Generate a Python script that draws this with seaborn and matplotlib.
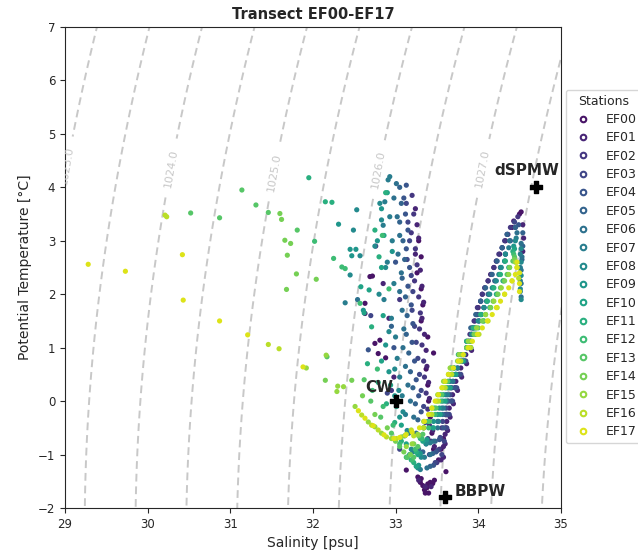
import numpy as np
import pandas as pd
import seaborn as sns
import matplotlib.pyplot as plt
from matplotlib.lines import Line2D

stations = ["EF%02d" % i for i in range(18)]

# (salinity, potential temperature) pairs, per station
ef00 = [(32.69, 2.33), (32.72, 2.34), (32.63, 1.83), (32.63, 1.64), (32.75, 1.08), (32.79, 0.89), (32.81, 1.14), (32.88, 0.81),
        (33.28, 3.00), (33.31, 2.70), (33.26, 2.40), (33.31, 2.10), (33.33, 1.80), (33.31, 1.50), (33.39, 1.20), (33.46, 0.90),
        (33.37, 0.60), (33.39, 0.30), (33.40, 0.00), (33.42, -0.30), (33.44, -0.60), (33.46, -0.90),
        (33.27, -1.42), (33.31, -1.45), (33.30, -1.52), (33.33, -1.58), (33.35, -1.66), (33.38, -1.62), (33.39, -1.55),
        (33.42, -1.52), (33.45, -1.54), (33.47, -1.48), (33.40, -1.72), (33.36, -1.72), (33.61, -1.32), (33.13, -1.29),
        (33.52, -1.10), (33.55, -0.90), (33.58, -0.70), (33.61, -0.50), (33.64, -0.25), (33.68, 0.00), (33.72, 0.25),
        (33.77, 0.50), (33.83, 0.75), (33.88, 1.00), (33.92, 1.25), (33.96, 1.50), (34.00, 1.75), (34.05, 2.00),
        (34.12, 2.25), (34.19, 2.50), (34.26, 2.75), (34.33, 3.00), (34.41, 3.25), (34.50, 3.50), (34.52, 3.54)]
ef01 = [(33.24, 3.60), (33.26, 3.30), (33.28, 3.05), (33.24, 2.75), (33.30, 2.45), (33.32, 2.15), (33.34, 1.85), (33.32, 1.55),
        (33.35, 1.25), (33.37, 0.95), (33.38, 0.65), (33.40, 0.35), (33.41, 0.05), (33.43, -0.25), (33.45, -0.55), (33.47, -0.85),
        (32.85, 2.20), (32.92, 1.55), (32.98, 0.45), (33.28, -1.48), (33.36, -1.60), (33.43, -1.60),
        (33.55, -1.10), (33.58, -0.85), (33.60, -0.62), (33.62, -0.38), (33.65, -0.13), (33.69, 0.12), (33.73, 0.37),
        (33.79, 0.62), (33.85, 0.87), (33.90, 1.12), (33.94, 1.37), (33.99, 1.62), (34.03, 1.87), (34.08, 2.12),
        (34.15, 2.37), (34.22, 2.62), (34.29, 2.87), (34.36, 3.12), (34.43, 3.37), (34.54, 3.30), (34.55, 3.05),
        (34.54, 2.80), (33.58, -1.05), (33.60, -0.80), (33.63, -0.55), (33.66, -0.30), (33.70, -0.05), (33.75, 0.20),
        (33.80, 0.45), (33.86, 0.70), (33.92, 0.95)]
ef02 = [(33.20, 3.85), (33.22, 3.50), (33.19, 3.15), (33.24, 2.85), (33.26, 2.55), (33.23, 2.25), (33.28, 1.95), (33.30, 1.65),
        (33.29, 1.35), (33.32, 1.05), (33.34, 0.75), (33.35, 0.45), (33.37, 0.15), (33.39, -0.15), (33.41, -0.45), (33.43, -0.75),
        (32.76, 2.90), (33.05, 1.90), (32.95, 0.20),
        (33.50, -1.15), (33.53, -0.90), (33.55, -0.70), (33.56, -0.50), (33.60, -0.25), (33.64, 0.00), (33.68, 0.25),
        (33.73, 0.50), (33.80, 0.75), (33.86, 1.00), (33.90, 1.25), (33.95, 1.50), (33.99, 1.75), (34.05, 2.00),
        (34.12, 2.25), (34.19, 2.50), (34.25, 2.75), (34.32, 3.00), (34.39, 3.25), (34.48, 3.45)]
ef03 = [(33.13, 3.70), (33.15, 3.35), (33.17, 3.00), (33.14, 2.65), (33.19, 2.35), (33.21, 2.05), (33.20, 1.70), (33.23, 1.40),
        (33.25, 1.10), (33.27, 0.80), (33.29, 0.50), (33.31, 0.20), (33.34, -0.10), (33.36, -0.40), (33.39, -0.70), (33.41, -1.00),
        (32.70, 1.60), (32.90, 0.15), (33.05, -0.90),
        (33.48, -1.15), (33.51, -0.92), (33.54, -0.68), (33.57, -0.38), (33.61, -0.13), (33.66, 0.12), (33.70, 0.37),
        (33.75, 0.62), (33.82, 0.87), (33.88, 1.12), (33.93, 1.37), (33.98, 1.62), (34.03, 1.87), (34.08, 2.12),
        (34.16, 2.37), (34.22, 2.62), (34.29, 2.87), (34.35, 3.12), (34.44, 3.35),
        (33.56, -1.00), (33.59, -0.75), (33.62, -0.50), (33.65, -0.25), (33.69, 0.00), (33.74, 0.25), (33.79, 0.50),
        (33.85, 0.75)]
ef04 = [(33.13, 4.04), (33.10, 3.80), (33.12, 3.50), (33.15, 3.20), (33.13, 2.85), (33.17, 2.50), (33.15, 2.15), (33.19, 1.80),
        (33.21, 1.45), (33.20, 1.10), (33.23, 0.75), (33.25, 0.40), (33.28, 0.10), (33.31, -0.20), (33.34, -0.50), (33.37, -0.80),
        (32.67, 0.96), (33.00, 2.60), (32.98, 1.00),
        (33.46, -1.20), (33.49, -0.95), (33.53, -0.72), (33.58, -0.50), (33.62, -0.25), (33.67, 0.00), (33.72, 0.25),
        (33.77, 0.50), (33.84, 0.75), (33.91, 1.00), (33.96, 1.25), (34.01, 1.50), (34.07, 1.75), (34.12, 2.00),
        (34.20, 2.25), (34.27, 2.50), (34.33, 2.75), (34.39, 3.00), (34.45, 3.25), (34.49, 3.30)]
ef05 = [(33.05, 4.00), (33.07, 3.70), (33.05, 3.35), (33.09, 3.00), (33.11, 2.65), (33.08, 2.30), (33.12, 1.95), (33.14, 1.60),
        (33.13, 1.25), (33.16, 0.90), (33.18, 0.55), (33.21, 0.25), (33.24, -0.05), (33.27, -0.35), (33.30, -0.65), (33.33, -0.95),
        (32.95, 1.40),
        (33.42, -1.22), (33.45, -0.98), (33.48, -0.75), (33.51, -0.38), (33.56, -0.13), (33.61, 0.12), (33.66, 0.37),
        (33.71, 0.62), (33.79, 0.87), (33.86, 1.12), (33.91, 1.37), (33.97, 1.62), (34.03, 1.87), (34.09, 2.12),
        (34.17, 2.37), (34.23, 2.62), (34.29, 2.87), (34.35, 3.12), (34.45, 3.25), (34.54, 3.15), (34.54, 2.90),
        (34.53, 2.65)]
ef06 = [(33.01, 4.07), (32.98, 3.80), (33.02, 3.45), (33.05, 3.10), (33.03, 2.75), (33.07, 2.40), (33.05, 2.05), (33.08, 1.70),
        (33.10, 1.35), (33.09, 1.00), (33.12, 0.65), (33.15, 0.30), (33.18, 0.00), (33.22, -0.30), (33.25, -0.60), (33.28, -0.90),
        (32.54, 1.90),
        (33.38, -1.25), (33.42, -1.00), (33.46, -0.75), (33.51, -0.50), (33.57, -0.25), (33.62, 0.00), (33.67, 0.25),
        (33.73, 0.50), (33.81, 0.75), (33.88, 1.00), (33.94, 1.25), (34.01, 1.50), (34.07, 1.75), (34.13, 2.00),
        (34.21, 2.25), (34.27, 2.50), (34.33, 2.75), (34.38, 3.00), (34.47, 3.15), (34.52, 2.95), (34.53, 2.70),
        (34.52, 2.45), (34.52, 2.20), (34.52, 1.95)]
ef07 = [(32.93, 4.20), (32.91, 4.14), (32.87, 3.73), (32.85, 3.29), (32.93, 3.45), (32.96, 3.00), (32.90, 2.60), (32.98, 2.20),
        (32.86, 1.90), (32.95, 1.55), (32.39, 1.84), (33.00, 1.20), (33.02, 0.80), (33.05, 0.45), (33.08, 0.10), (33.12, -0.25),
        (33.16, -0.60), (33.21, -0.95),
        (33.30, -1.28), (33.35, -1.05), (33.42, -0.78), (33.52, -0.38), (33.58, -0.13), (33.63, 0.12), (33.69, 0.37),
        (33.75, 0.62), (33.83, 0.87), (33.91, 1.12), (33.97, 1.37), (34.04, 1.62), (34.10, 1.87), (34.17, 2.12),
        (34.25, 2.37), (34.32, 2.62), (34.37, 2.87), (34.46, 3.05), (34.51, 2.75), (34.51, 2.50), (34.51, 2.25),
        (34.51, 2.05)]
ef08 = [(32.81, 3.70), (32.83, 3.39), (32.49, 3.20), (32.53, 3.58), (32.57, 2.72), (32.45, 2.36), (32.75, 2.90), (32.88, 2.50),
        (32.80, 2.00), (32.92, 1.30), (32.99, 0.60), (33.04, 0.20), (33.09, -0.20), (33.14, -0.55), (33.19, -0.90),
        (33.27, -1.25), (33.31, -1.05), (33.37, -0.80), (33.45, -0.50), (33.51, -0.25), (33.57, 0.00), (33.63, 0.25),
        (33.69, 0.50), (33.78, 0.75), (33.86, 1.00), (33.92, 1.25), (34.00, 1.50), (34.07, 1.75), (34.14, 2.00),
        (34.22, 2.25), (34.28, 2.50), (34.33, 2.75), (34.45, 3.00), (34.52, 2.85), (34.52, 2.60), (34.52, 2.35),
        (34.51, 2.10), (34.52, 1.90)]
ef09 = [(32.52, 2.84), (32.45, 2.84), (32.47, 2.72), (32.31, 3.31), (32.61, 1.70), (32.83, 3.60), (32.78, 3.00), (32.96, 2.80),
        (32.88, 1.05), (32.92, 0.55), (32.99, 0.10), (33.05, -0.30), (33.11, -0.65), (33.17, -1.00),
        (33.28, -1.20), (33.30, -0.98), (33.38, -0.72), (33.46, -0.38), (33.53, -0.13), (33.58, 0.12), (33.64, 0.37),
        (33.71, 0.62), (33.80, 0.87), (33.88, 1.12), (33.95, 1.37), (34.03, 1.62), (34.11, 1.87), (34.18, 2.12),
        (34.26, 2.37), (34.32, 2.62), (34.43, 2.90)]
ef10 = [(32.58, 2.14), (32.68, 2.08), (32.62, 1.65), (32.90, 3.90), (32.86, 3.10), (32.83, 2.50), (32.85, 1.60), (32.83, 0.75),
        (32.94, 0.30), (33.01, -0.10), (33.07, -0.45), (33.13, -0.80), (33.19, -1.10),
        (33.25, -1.22), (33.27, -1.00), (33.33, -0.75), (33.46, -0.50), (33.54, -0.25), (33.60, 0.00), (33.66, 0.25),
        (33.73, 0.50), (33.82, 0.75), (33.91, 1.00), (33.98, 1.25), (34.07, 1.50), (34.14, 1.75), (34.22, 2.00),
        (34.30, 2.25), (34.37, 2.50), (34.44, 2.85)]
ef11 = [(31.95, 4.18), (32.15, 3.73), (32.23, 3.72), (32.71, 1.39), (32.80, 2.70), (32.75, 3.20), (32.88, 3.90), (32.66, 0.70),
        (32.79, 0.35), (32.89, -0.05), (32.99, -0.40), (33.07, -0.75), (33.14, -1.05),
        (33.22, -1.15), (33.25, -0.95), (33.30, -0.70), (33.39, -0.38), (33.47, -0.13), (33.54, 0.12), (33.60, 0.37),
        (33.67, 0.62), (33.76, 0.87), (33.86, 1.12), (33.94, 1.37), (34.03, 1.62), (34.11, 1.87), (34.19, 2.12),
        (34.27, 2.37), (34.33, 2.62), (34.42, 2.80)]
ef12 = [(32.02, 2.99), (32.25, 2.67), (32.35, 2.51), (32.39, 2.48), (32.57, 1.83), (32.84, 3.10), (32.92, 2.10), (32.78, 0.60),
        (32.72, 0.20), (32.85, -0.10), (32.97, -0.45), (33.05, -0.80), (33.13, -1.05),
        (33.20, -1.10), (33.24, -0.90), (33.32, -0.70), (33.40, -0.50), (33.48, -0.25), (33.55, 0.00), (33.61, 0.25),
        (33.68, 0.50), (33.78, 0.75), (33.88, 1.00), (33.97, 1.25), (34.06, 1.50), (34.15, 1.75), (34.23, 2.00),
        (34.31, 2.25), (34.38, 2.50), (34.43, 2.75)]
ef13 = [(30.52, 3.52), (30.87, 3.43), (31.14, 3.95), (31.31, 3.67), (31.46, 3.53), (31.81, 3.20), (32.17, 0.83), (32.62, 0.40),
        (32.70, 0.00), (32.82, -0.30), (32.95, -0.60), (33.05, -0.85), (33.14, -1.05),
        (33.22, -1.05), (33.27, -0.85), (33.33, -0.62), (33.41, -0.38), (33.49, -0.13), (33.56, 0.12), (33.63, 0.37),
        (33.70, 0.62), (33.81, 0.87), (33.91, 1.12), (34.00, 1.37), (34.09, 1.62), (34.18, 1.87), (34.27, 2.12),
        (34.35, 2.37), (34.42, 2.62), (34.44, 2.70)]
ef14 = [(31.60, 3.51), (31.62, 3.40), (31.66, 3.01), (31.73, 2.95), (31.69, 2.73), (31.80, 2.38), (31.68, 2.09), (32.04, 2.28),
        (32.15, 0.39), (32.47, 0.39), (32.60, 0.10), (32.75, -0.25), (32.90, -0.50), (33.00, -0.75), (33.10, -0.95),
        (33.18, -1.00), (33.22, -0.80), (33.28, -0.65), (33.34, -0.50), (33.43, -0.25), (33.50, 0.00), (33.57, 0.25),
        (33.64, 0.50), (33.75, 0.75), (33.86, 1.00), (33.95, 1.25), (34.05, 1.50), (34.15, 1.75), (34.24, 2.00),
        (34.32, 2.25), (34.38, 2.50), (34.44, 2.65)]
ef15 = [(31.92, 0.62), (32.16, 0.86), (32.30, 0.28), (32.37, 0.27), (32.29, 0.18), (32.51, -0.10), (32.67, -0.39), (32.75, -0.48),
        (32.83, -0.60), (32.95, -0.70), (33.07, -0.67), (33.13, -0.85),
        (33.20, -0.80), (33.27, -0.62), (33.34, -0.38), (33.44, -0.13), (33.51, 0.12), (33.58, 0.37), (33.66, 0.62),
        (33.77, 0.87), (33.88, 1.12), (33.98, 1.37), (34.09, 1.62), (34.19, 1.87), (34.28, 2.12), (34.37, 2.37),
        (34.45, 2.60)]
ef16 = [(30.21, 3.48), (30.23, 3.45), (31.59, 0.98), (31.46, 1.06), (32.59, -0.26), (32.71, -0.45), (32.79, -0.54), (32.89, -0.67),
        (33.01, -0.70), (33.13, -0.62), (33.19, -0.54),
        (33.22, -0.65), (33.34, -0.50), (33.44, -0.25), (33.52, 0.00), (33.60, 0.25), (33.68, 0.50), (33.79, 0.75),
        (33.91, 1.00), (34.01, 1.25), (34.12, 1.50), (34.23, 1.75), (34.32, 2.00), (34.41, 2.25), (34.47, 2.50),
        (34.49, 2.30)]
ef17 = [(29.28, 2.56), (29.73, 2.43), (30.42, 2.74), (30.43, 1.89), (30.87, 1.50), (31.21, 1.24), (31.88, 0.64),
        (32.55, -0.18), (32.63, -0.32), (32.73, -0.46), (32.86, -0.63), (32.98, -0.70), (33.05, -0.68), (33.12, -0.64),
        (33.20, -0.58), (33.29, -0.50), (33.40, -0.25), (33.48, 0.00), (33.56, 0.25), (33.64, 0.50), (33.76, 0.75),
        (33.88, 1.00), (33.99, 1.25), (34.11, 1.50), (34.22, 1.75), (34.32, 2.00), (34.41, 2.25), (34.47, 2.50),
        (34.47, 2.60), (34.50, 2.40), (34.50, 2.20), (34.50, 2.05),
        (33.35, -0.38), (33.44, -0.13), (33.52, 0.12), (33.60, 0.37), (33.70, 0.62), (33.82, 0.87), (33.93, 1.12),
        (34.05, 1.37), (34.17, 1.62), (34.27, 1.87), (34.37, 2.12), (34.45, 2.37)]

profiles = [ef00, ef01, ef02, ef03, ef04, ef05, ef06, ef07, ef08,
            ef09, ef10, ef11, ef12, ef13, ef14, ef15, ef16, ef17]

# water mass definitions
wm_names = ["CW", "dSPMW", "BBPW"]
wm_sal = [33.0, 34.7, 33.6]
wm_temp = [0.0, 4.0, -1.8]

# density labels and where they sit
lab_pos = [(29.03, 4.4), (30.29, 4.36), (31.52, 4.29), (32.81, 4.33), (34.04, 4.36)]

rows = []
for name, pts in zip(stations, profiles):
    for s, t in pts:
        rows.append((name, s, t))
df = pd.DataFrame(rows, columns=["station", "salinity", "temperature"])


def density(S, T):
    # UNESCO 1980 equation of state at surface pressure
    rho_w = (999.842594 + 6.793952e-2 * T - 9.095290e-3 * T**2 + 1.001685e-4 * T**3
             - 1.120083e-6 * T**4 + 6.536332e-9 * T**5)
    A = 8.24493e-1 - 4.0899e-3 * T + 7.6438e-5 * T**2 - 8.2467e-7 * T**3 + 5.3875e-9 * T**4
    B = -5.72466e-3 + 1.0227e-4 * T - 1.6546e-6 * T**2
    return rho_w + A * S + B * S**1.5 + 4.8314e-4 * S**2


si, ti = np.meshgrid(np.linspace(28, 36, 300), np.linspace(-3, 8, 300))
dens = density(si, ti)

sns.set_style("ticks")
plt.rcParams["lines.dashed_pattern"] = [4, 2.5]

fig, ax = plt.subplots(figsize=(6.38, 5.51), dpi=100)
fig.subplots_adjust(left=0.102, right=0.879, top=0.951, bottom=0.078)

line_kw = dict(colors="#c8c8c8", linestyles="dashed", linewidths=1.4, zorder=1)
ax.contour(si, ti, dens, levels=np.arange(1020.5, 1030.0, 1.0), **line_kw)
cs = ax.contour(si, ti, dens, levels=np.arange(1021.0, 1030.0, 1.0), **line_kw)
ax.clabel(cs, manual=lab_pos, fmt="%1.1f", fontsize=8, colors="#c8c8c8", inline=True)

sns.scatterplot(data=df, x="salinity", y="temperature", hue="station",
                hue_order=stations, palette="viridis", s=14, linewidth=0,
                legend=False, ax=ax, zorder=3)

ax.scatter(wm_sal, wm_temp, marker="P", s=70, color="black", zorder=5)
offsets = [(-0.03, 0.25, "right"), (-0.5, 0.32, "left"), (0.12, 0.1, "left")]
for name, s, t, (dx, dy, ha) in zip(wm_names, wm_sal, wm_temp, offsets):
    ax.text(s + dx, t + dy, name, ha=ha, va="center", fontsize=11,
            fontweight="bold", zorder=6)

ax.set_xlim(29, 35)
ax.set_ylim(-2, 7)
ax.set_title("Transect EF00-EF17", fontsize=10.5, fontweight="bold")
ax.set_xlabel("Salinity [psu]", fontsize=10)
ax.set_ylabel("Potential Temperature [°C]", fontsize=10)
ax.tick_params(labelsize=8.5)

colors = sns.color_palette("viridis", len(stations))
handles = [Line2D([], [], marker="o", ls="none", mfc="none", mec=c, mew=1.5, ms=4)
           for c in colors]
ax.legend(handles, stations, title="Stations", loc="upper left",
          bbox_to_anchor=(1.01, 0.87), fontsize=9, title_fontsize=9,
          labelspacing=0.43, borderaxespad=0)

fig.savefig("out.png", dpi=100)
